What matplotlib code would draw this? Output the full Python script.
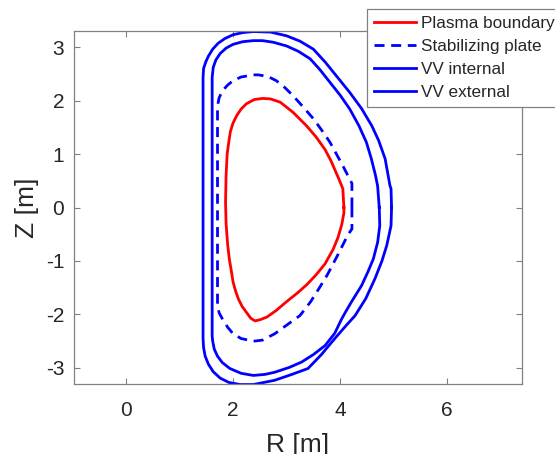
import matplotlib
matplotlib.use("Agg")
import matplotlib.pyplot as plt

plt.rcParams['font.family'] = ['Liberation Sans', 'DejaVu Sans']

# Plasma boundary (R, Z)
plasma_R = [4.07, 4.05, 3.99, 3.93, 3.83, 3.72, 3.55, 3.37, 3.12, 2.88, 2.70, 2.56, 2.40, 2.25, 2.15, 2.07,
            2.00, 1.95, 1.92, 1.89, 1.87, 1.86, 1.87, 1.90, 1.93, 1.97, 2.00, 2.05, 2.10, 2.17, 2.25,
            2.33, 2.41, 2.50, 2.63, 2.80, 3.00, 3.20, 3.38, 3.55, 3.72, 3.87, 3.96, 4.03, 4.07, 4.07]
plasma_Z = [0.00, 0.35, 0.50, 0.64, 0.87, 1.08, 1.32, 1.53, 1.78, 1.97, 2.03, 2.04, 2.02, 1.94, 1.84, 1.72,
            1.58, 1.42, 1.22, 1.00, 0.60, 0.10, -0.30, -0.70, -0.96, -1.20, -1.39, -1.57, -1.71, -1.85, -1.96,
            -2.07, -2.12, -2.10, -2.05, -1.93, -1.76, -1.60, -1.44, -1.26, -1.05, -0.78, -0.56, -0.32, -0.10, 0.00]

# Stabilizing plate
plate_R = [4.22, 4.22, 4.05, 3.93, 3.81, 3.66, 3.50, 3.31, 3.12, 2.97, 2.81, 2.65, 2.47, 2.38,
           2.15, 2.00, 1.90, 1.80, 1.74, 1.71, 1.71, 1.74, 1.80, 1.90, 2.00, 2.15, 2.38, 2.55,
           2.78, 3.00, 3.25, 3.45, 3.62, 3.76, 3.87, 3.97, 4.06, 4.14, 4.22, 4.22]
plate_Z = [0.00, 0.45, 0.78, 1.00, 1.22, 1.44, 1.66, 1.88, 2.09, 2.24, 2.37, 2.45, 2.48, 2.48,
           2.44, 2.37, 2.29, 2.18, 2.05, 1.90, -1.83, -1.97, -2.08, -2.24, -2.36, -2.45, -2.50, -2.48,
           -2.36, -2.20, -2.02, -1.76, -1.49, -1.26, -1.05, -0.86, -0.68, -0.52, -0.40, 0.00]

# VV internal
vvi_R = [4.73, 4.70, 4.66, 4.58, 4.49, 4.35, 4.18, 4.00, 3.81, 3.62, 3.44, 3.22, 3.00, 2.75,
         2.55, 2.38, 2.18, 2.00, 1.87, 1.76, 1.68, 1.63, 1.61, 1.61, 1.62, 1.65, 1.71, 1.80, 1.94, 2.15, 2.38,
         2.60, 2.78, 3.05, 3.28, 3.50, 3.72, 3.90, 4.03, 4.12, 4.22, 4.40, 4.52, 4.62, 4.70, 4.74, 4.73]
vvi_Z = [0.00, 0.40, 0.60, 0.92, 1.22, 1.53, 1.84, 2.10, 2.34, 2.58, 2.78, 2.92, 3.02, 3.09,
         3.12, 3.12, 3.10, 3.05, 2.98, 2.88, 2.76, 2.62, 2.43, -2.40, -2.50, -2.65, -2.78, -2.90, -3.01, -3.10, -3.14,
         -3.12, -3.08, -2.99, -2.89, -2.75, -2.58, -2.35, -2.08, -1.92, -1.75, -1.46, -1.20, -0.96, -0.65, -0.34, 0.00]

# VV external
vve_R = [4.96, 4.95, 4.93, 4.84, 4.72, 4.59, 4.40, 4.18, 3.93, 3.72, 3.50, 3.25, 3.00, 2.70,
         2.38, 2.18, 2.00, 1.85, 1.72, 1.62, 1.54, 1.49, 1.45, 1.44, 1.44, 1.45, 1.48, 1.54, 1.63, 1.76, 1.92, 2.13, 2.38, 2.78,
         3.10, 3.40, 3.65, 3.90, 4.10, 4.28, 4.48, 4.65, 4.78, 4.87, 4.95, 4.96]
vve_Z = [0.00, 0.35, 0.41, 0.91, 1.25, 1.53, 1.85, 2.15, 2.46, 2.72, 2.96, 3.11, 3.21, 3.28,
         3.29, 3.27, 3.23, 3.16, 3.07, 2.96, 2.83, 2.72, 2.60, 2.43, -2.45, -2.62, -2.78, -2.93, -3.07, -3.19, -3.27, -3.31, -3.31, -3.23,
         -3.12, -3.01, -2.75, -2.45, -2.22, -2.02, -1.70, -1.33, -1.00, -0.71, -0.34, 0.00]

labels = ['Plasma boundary', 'Stabilizing plate', 'VV internal', 'VV external']
x_ticks = [0, 2, 4, 6]
y_ticks = [-3, -2, -1, 0, 1, 2, 3]

fig = plt.figure(figsize=(5.55, 4.54), dpi=100)
ax = fig.add_axes([0.1333, 0.1542, 0.8067, 0.7775])

lw = 2.0
ax.plot(plasma_R, plasma_Z, color='#ff0000', lw=lw, label=labels[0])
ax.plot(plate_R, plate_Z, color='#0000ff', lw=lw, dashes=(3.6, 2.4), label=labels[1])
ax.plot(vvi_R, vvi_Z, color='#0000ff', lw=lw, label=labels[2])
ax.plot(vve_R, vve_Z, color='#0000ff', lw=lw, label=labels[3])

ax.set_xlim(-0.97, 7.39)
ax.set_ylim(-3.3, 3.3)
ax.set_xticks(x_ticks)
ax.set_yticks(y_ticks)
ax.set_xticklabels([str(t) for t in x_ticks])
ax.set_yticklabels([str(t) for t in y_ticks])

for s in ax.spines.values():
    s.set_color('#808080')
    s.set_linewidth(0.9)
ax.tick_params(direction='in', length=4, width=0.8, color='#808080',
               top=True, right=True, labelsize=15, labelcolor='#262626')
ax.tick_params(axis='x', pad=12)
ax.tick_params(axis='y', pad=7)

ax.set_xlabel('R [m]', fontsize=19, color='#262626', labelpad=9.5)
ax.set_ylabel('Z [m]', fontsize=19, color='#262626', labelpad=5)

leg = fig.legend(loc='upper left', bbox_to_anchor=(367.3/555, 1 - 8.6/454),
                 bbox_transform=fig.transFigure, borderaxespad=0, fontsize=12.3,
                 frameon=True, fancybox=False, framealpha=1, edgecolor='#808080',
                 handlelength=2.45, handletextpad=0.3, labelspacing=0.47, borderpad=0.42)
leg.get_frame().set_linewidth(0.9)
for t in leg.get_texts():
    t.set_color('#262626')

fig.savefig('out.png', dpi=100)
